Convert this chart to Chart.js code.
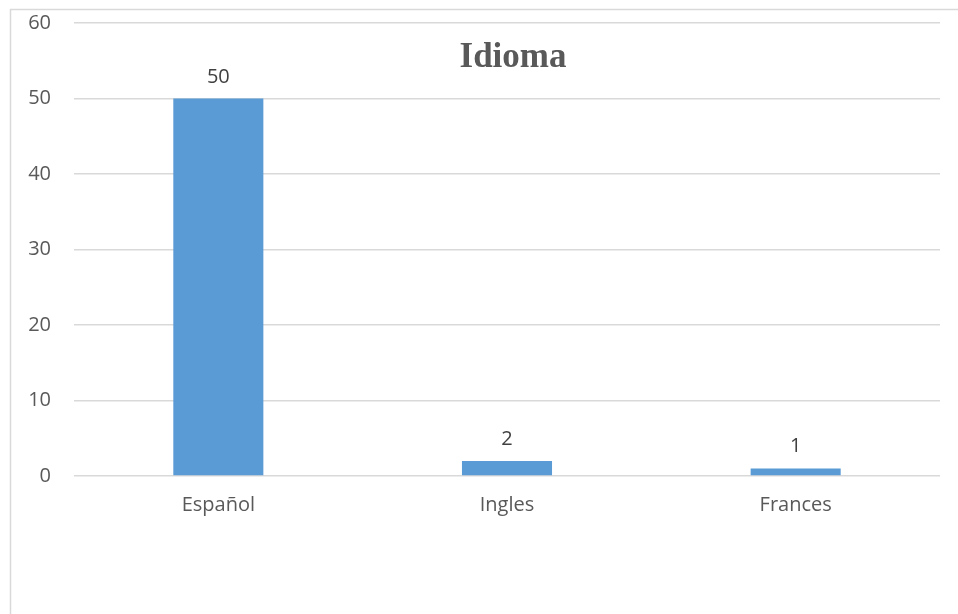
<!DOCTYPE html>
<html>
<head>
<meta charset="utf-8">
<script src="https://cdn.jsdelivr.net/npm/chart.js@4"></script>
<style>
  html, body { margin: 0; padding: 0; background: #fff; }
  #wrap { width: 958px; height: 614px; }
</style>
</head>
<body>
<div id="wrap"><canvas id="chart" width="958" height="614"></canvas></div>
<script>
const categories = ['Español', 'Ingles', 'Frances'];
const values = [50, 2, 1];
const yTicks = [0, 10, 20, 30, 40, 50, 60];
const chartTitle = 'Idioma';

const textColor = '#595959';
const gridColor = '#d9d9d9';

// frame + title + value labels
const decor = {
    id: 'decor',
    beforeDraw(chart) {
        const c = chart.ctx;
        c.save();
        c.strokeStyle = gridColor;
        c.lineWidth = 1.5;
        c.beginPath();
        c.moveTo(10.5, 614);
        c.lineTo(10.5, 9.5);
        c.lineTo(958, 9.5);
        c.stroke();
        c.restore();
    },
    afterDatasetsDraw(chart) {
        const c = chart.ctx;
        c.save();
        c.fillStyle = textColor;
        c.font = 'bold 35px "Liberation Serif", serif';
        c.textAlign = 'center';
        c.textBaseline = 'middle';
        c.fillText(chartTitle, 513, 58);

        c.fillStyle = '#404040';
        c.font = '20px "Open Sans", sans-serif';
        c.textBaseline = 'alphabetic';
        chart.getDatasetMeta(0).data.forEach((bar, i) => {
            c.fillText(String(values[i]), bar.x, bar.y - 16);
        });
        c.restore();
    }
};

new Chart(document.getElementById('chart'), {
    type: 'bar',
    data: {
        labels: categories,
        datasets: [{
            data: values,
            backgroundColor: '#5b9bd5',
            borderWidth: 0,
            categoryPercentage: 1,
            barPercentage: 0.312
        }]
    },
    options: {
        responsive: false,
        animation: false,
        layout: { padding: { left: 10, right: 18, top: 23, bottom: 88 } },
        plugins: {
            legend: { display: false },
            tooltip: { enabled: false }
        },
        scales: {
            x: {
                grid: { display: false, drawTicks: false },
                border: { display: false },
                ticks: {
                    color: textColor,
                    font: { family: '"Open Sans", sans-serif', size: 20 },
                    padding: 17
                },
                afterFit(scale) { scale.height = 50; }
            },
            y: {
                min: yTicks[0],
                max: yTicks[yTicks.length - 1],
                grid: { color: gridColor, lineWidth: 1.5, drawTicks: false },
                border: { display: false },
                afterBuildTicks(scale) {
                    scale.ticks = yTicks.map(v => ({ value: v }));
                },
                ticks: {
                    color: textColor,
                    font: { family: '"Open Sans", sans-serif', size: 20 },
                    padding: 23
                },
                afterFit(scale) {
                    scale.width = 64;
                    scale.paddingTop = 0;
                    scale.paddingBottom = 0;
                }
            }
        }
    },
    plugins: [decor]
});
</script>
</body>
</html>
